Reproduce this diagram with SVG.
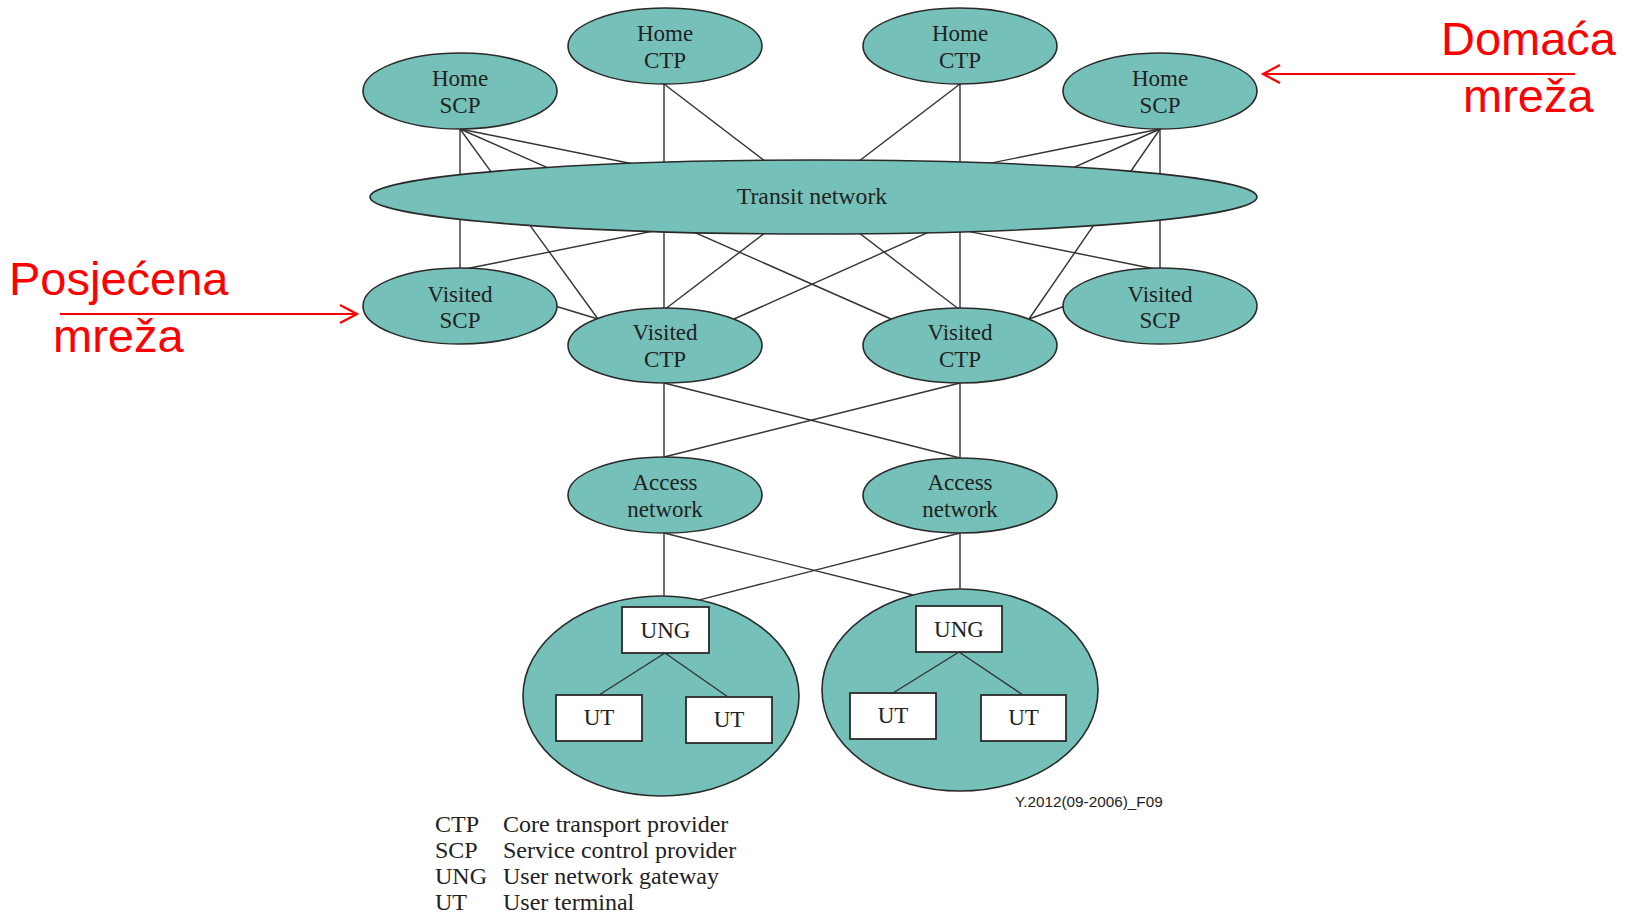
<svg xmlns="http://www.w3.org/2000/svg" width="1625" height="913" viewBox="0 0 1625 913">
  <style>
    .node { fill: #75c1b9; stroke: #2a2a2a; stroke-width: 1.6; }
    .box { fill: #ffffff; stroke: #2a2a2a; stroke-width: 1.8; }
    .link { stroke: #333333; stroke-width: 1.4; fill: none; }
    .lbl { font-family: "Liberation Serif", "Times New Roman", serif; font-size: 23px; fill: #222222; text-anchor: middle; }
    .big { font-size: 23.8px; }
    .leg { font-family: "Liberation Serif", "Times New Roman", serif; font-size: 24px; fill: #222222; }
    .code { font-family: "Liberation Sans", Arial, sans-serif; font-size: 15.3px; fill: #222222; }
    .note { font-family: "Liberation Sans", Arial, sans-serif; font-size: 47px; fill: #ff0000; }
    .pointer { stroke: #ff0000; stroke-width: 2.2; fill: none; }
  </style>
  <defs>
    <marker id="chevron" markerUnits="userSpaceOnUse" markerWidth="24" markerHeight="24" refX="0" refY="0" viewBox="-20 -12 22 24" orient="auto">
      <path d="M -17 -9 L 0 0 L -17 9" fill="none" stroke="#ff0000" stroke-width="2.2"/>
    </marker>
  </defs>
  <rect width="1625" height="913" fill="#ffffff"/>

  <!-- user premises networks (containers for UNG and UT) -->
  <g id="user-net-left">
    <ellipse class="node" cx="661" cy="696" rx="138" ry="100"/>
  </g>
  <g id="user-net-right">
    <ellipse class="node" cx="960" cy="690" rx="138" ry="101"/>
  </g>

  <!-- connectors -->
  <g id="connectors" class="link">
    <!-- Home SCP (left) -->
    <line x1="460" y1="129" x2="460" y2="270"/>
    <line x1="460" y1="129" x2="598" y2="319"/>
    <line x1="460" y1="129" x2="891" y2="319"/>
    <line x1="460" y1="129" x2="1160" y2="270"/>
    <!-- Home SCP (right) -->
    <line x1="1160" y1="129" x2="1160" y2="270"/>
    <line x1="1160" y1="129" x2="1029" y2="319"/>
    <line x1="1160" y1="129" x2="734" y2="319"/>
    <line x1="1160" y1="129" x2="460" y2="270"/>
    <!-- Home CTP -->
    <line x1="664" y1="84" x2="664" y2="310"/>
    <line x1="664" y1="84" x2="960" y2="310"/>
    <line x1="960" y1="84" x2="960" y2="310"/>
    <line x1="960" y1="84" x2="664" y2="310"/>
    <!-- Visited SCP to Visited CTP -->
    <line x1="555" y1="306" x2="598" y2="319"/>
    <line x1="1065" y1="306" x2="1029" y2="319"/>
    <!-- Visited CTP to Access network -->
    <line x1="664" y1="383" x2="664" y2="457"/>
    <line x1="664" y1="383" x2="960" y2="458"/>
    <line x1="960" y1="383" x2="664" y2="457"/>
    <line x1="960" y1="383" x2="960" y2="458"/>
    <!-- Access network to user networks -->
    <line x1="664" y1="533" x2="664" y2="596"/>
    <line x1="664" y1="533" x2="913" y2="595"/>
    <line x1="960" y1="533" x2="699.5" y2="599.9"/>
    <line x1="960" y1="533" x2="960" y2="589"/>
    <!-- UNG to UT -->
    <line x1="665" y1="653" x2="599" y2="695"/>
    <line x1="665" y1="653" x2="728" y2="697"/>
    <line x1="959" y1="652" x2="893" y2="693"/>
    <line x1="959" y1="652" x2="1023" y2="695"/>
  </g>

  <!-- home providers -->
  <g id="home-scp-left">
    <ellipse class="node" cx="460" cy="91" rx="97" ry="38"/>
    <text class="lbl" x="460" y="86">Home</text>
    <text class="lbl" x="460" y="113">SCP</text>
  </g>
  <g id="home-ctp-left">
    <ellipse class="node" cx="665" cy="46" rx="97" ry="38"/>
    <text class="lbl" x="665" y="41">Home</text>
    <text class="lbl" x="665" y="68">CTP</text>
  </g>
  <g id="home-ctp-right">
    <ellipse class="node" cx="960" cy="46" rx="97" ry="38"/>
    <text class="lbl" x="960" y="41">Home</text>
    <text class="lbl" x="960" y="68">CTP</text>
  </g>
  <g id="home-scp-right">
    <ellipse class="node" cx="1160" cy="91" rx="97" ry="38"/>
    <text class="lbl" x="1160" y="86">Home</text>
    <text class="lbl" x="1160" y="113">SCP</text>
  </g>

  <!-- transit -->
  <g id="transit-network">
    <ellipse class="node" cx="813.5" cy="197" rx="443.5" ry="37"/>
    <text class="lbl big" x="812" y="204">Transit network</text>
  </g>

  <!-- visited providers -->
  <g id="visited-scp-left">
    <ellipse class="node" cx="460" cy="306" rx="97" ry="38"/>
    <text class="lbl" x="460" y="302">Visited</text>
    <text class="lbl" x="460" y="328">SCP</text>
  </g>
  <g id="visited-ctp-left">
    <ellipse class="node" cx="665" cy="345.5" rx="97" ry="37.5"/>
    <text class="lbl" x="665" y="340">Visited</text>
    <text class="lbl" x="665" y="367">CTP</text>
  </g>
  <g id="visited-ctp-right">
    <ellipse class="node" cx="960" cy="345.5" rx="97" ry="37.5"/>
    <text class="lbl" x="960" y="340">Visited</text>
    <text class="lbl" x="960" y="367">CTP</text>
  </g>
  <g id="visited-scp-right">
    <ellipse class="node" cx="1160" cy="306" rx="97" ry="38"/>
    <text class="lbl" x="1160" y="302">Visited</text>
    <text class="lbl" x="1160" y="328">SCP</text>
  </g>

  <!-- access networks -->
  <g id="access-left">
    <ellipse class="node" cx="665" cy="495" rx="97" ry="38"/>
    <text class="lbl" x="665" y="490">Access</text>
    <text class="lbl" x="665" y="517">network</text>
  </g>
  <g id="access-right">
    <ellipse class="node" cx="960" cy="495.5" rx="97" ry="37.5"/>
    <text class="lbl" x="960" y="490">Access</text>
    <text class="lbl" x="960" y="517">network</text>
  </g>

  <!-- gateways and terminals -->
  <g id="ung-left">
    <rect class="box" x="622" y="607" width="87" height="46"/>
    <text class="lbl" x="665.5" y="638">UNG</text>
  </g>
  <g id="ut-left-1">
    <rect class="box" x="556" y="695" width="86" height="46"/>
    <text class="lbl" x="599" y="725">UT</text>
  </g>
  <g id="ut-left-2">
    <rect class="box" x="686" y="697" width="86" height="46"/>
    <text class="lbl" x="729" y="727">UT</text>
  </g>
  <g id="ung-right">
    <rect class="box" x="916" y="606" width="86" height="46"/>
    <text class="lbl" x="959" y="637">UNG</text>
  </g>
  <g id="ut-right-1">
    <rect class="box" x="850" y="693" width="86" height="46"/>
    <text class="lbl" x="893" y="723">UT</text>
  </g>
  <g id="ut-right-2">
    <rect class="box" x="981" y="695" width="85" height="46"/>
    <text class="lbl" x="1023.5" y="725">UT</text>
  </g>

  <!-- figure code -->
  <text class="code" x="1015" y="807">Y.2012(09-2006)_F09</text>

  <!-- legend -->
  <g id="legend" class="leg">
    <text x="435" y="832">CTP</text>
    <text x="503" y="832">Core transport provider</text>
    <text x="435" y="858">SCP</text>
    <text x="503" y="858">Service control provider</text>
    <text x="435" y="884">UNG</text>
    <text x="503" y="884">User network gateway</text>
    <text x="435" y="910">UT</text>
    <text x="503" y="910">User terminal</text>
  </g>

  <!-- annotations -->
  <g id="note-home">
    <text class="note" x="1441" y="55">Domaća</text>
    <text class="note" x="1463" y="112">mreža</text>
    <line class="pointer" x1="1575" y1="74" x2="1263" y2="74" marker-end="url(#chevron)"/>
  </g>
  <g id="note-visited">
    <text class="note" x="9" y="295">Posjećena</text>
    <text class="note" x="53" y="352">mreža</text>
    <line class="pointer" x1="60" y1="314" x2="357" y2="314" marker-end="url(#chevron)"/>
  </g>
</svg>
